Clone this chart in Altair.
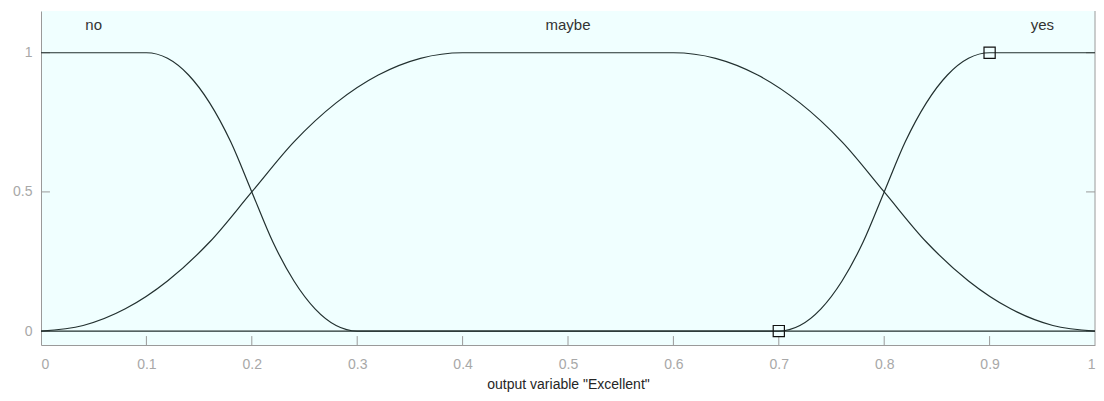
import altair as alt
import pandas as pd

# membership function curves
no_x = [0.0, 0.1, 0.12, 0.14, 0.16, 0.18, 0.2, 0.22, 0.24, 0.26, 0.28, 0.3, 1.0]
no_y = [1.0, 1.0, 0.98, 0.92, 0.82, 0.68, 0.5, 0.32, 0.18, 0.08, 0.02, 0.0, 0.0]

maybe_x = [0.0, 0.04, 0.08, 0.12, 0.16, 0.2, 0.24, 0.28, 0.32, 0.36, 0.4,
           0.6, 0.64, 0.68, 0.72, 0.76, 0.8, 0.84, 0.88, 0.92, 0.96, 1.0]
maybe_y = [0.0, 0.02, 0.08, 0.18, 0.32, 0.5, 0.68, 0.82, 0.92, 0.98, 1.0,
           1.0, 0.98, 0.92, 0.82, 0.68, 0.5, 0.32, 0.18, 0.08, 0.02, 0.0]

yes_x = [0.0, 0.7, 0.72, 0.74, 0.76, 0.78, 0.8, 0.82, 0.84, 0.86, 0.88, 0.9, 1.0]
yes_y = [0.0, 0.0, 0.02, 0.08, 0.18, 0.32, 0.5, 0.68, 0.82, 0.92, 0.98, 1.0, 1.0]

mf_names = ["no", "maybe", "yes"]
mf_label_x = [0.05, 0.5, 0.95]
mf_label_y = [1.1, 1.1, 1.1]

marker_x = [0.7, 0.9]
marker_y = [0.0, 1.0]

x_ticks = [0, 0.1, 0.2, 0.3, 0.4, 0.5, 0.6, 0.7, 0.8, 0.9, 1]
y_ticks = [0, 0.5, 1]

XD = [0, 1]
YD = [-0.05, 1.15]
AXC = "#9a9a9a"
FONT = "Liberation Sans"

rows = []
for name, xs_, ys_ in [("no", no_x, no_y), ("maybe", maybe_x, maybe_y), ("yes", yes_x, yes_y)]:
    for i, (a, b) in enumerate(zip(xs_, ys_)):
        rows.append({"mf": name, "x": a, "y": b, "o": i})
curves = pd.DataFrame(rows)

xs = alt.Scale(domain=XD, nice=False, zero=False)
ys = alt.Scale(domain=YD, nice=False, zero=False)

xaxis = alt.Axis(values=x_ticks, format="~g", tickSize=0, labelPadding=12,
                 domainColor=AXC, labelColor="#a8a8a8", labelFontSize=14,
                 labelFont=FONT, grid=False,
                 title='output variable "Excellent"', titleFont=FONT,
                 titleFontSize=14, titleFontWeight="normal", titleColor="#262626",
                 titlePadding=6)
yaxis = alt.Axis(values=y_ticks, format="~g", tickSize=0, labelPadding=9,
                 domainColor=AXC, labelColor="#a8a8a8", labelFontSize=14,
                 labelFont=FONT, grid=False, title=None)

lines = alt.Chart(curves).mark_line(interpolate="monotone", color="#22302f",
                                    strokeWidth=1.2, clip=True).encode(
    x=alt.X("x:Q", scale=xs, axis=xaxis),
    y=alt.Y("y:Q", scale=ys, axis=yaxis),
    detail="mf:N",
    order="o:Q",
)

# inner tick marks
bt = pd.DataFrame({"x": x_ticks[1:-1]})
bottom_ticks = alt.Chart(bt).mark_rule(color=AXC, strokeWidth=1).encode(
    x="x:Q", y=alt.datum(-0.05), y2=alt.datum(-0.018))
lt = pd.DataFrame({"y": y_ticks})
left_ticks = alt.Chart(lt).mark_rule(color=AXC, strokeWidth=1).encode(
    y="y:Q", x=alt.datum(0), x2=alt.datum(0.0085))
right_ticks = alt.Chart(lt).mark_rule(color=AXC, strokeWidth=1).encode(
    y="y:Q", x=alt.datum(1), x2=alt.datum(1 - 0.0085))
right_border = alt.Chart(pd.DataFrame({"x": [1]})).mark_rule(color=AXC, strokeWidth=1).encode(
    x="x:Q", y=alt.datum(YD[0]), y2=alt.datum(YD[1]))

labels = alt.Chart(pd.DataFrame({"t": mf_names, "x": mf_label_x, "y": mf_label_y})).mark_text(
    font=FONT, fontSize=15, color="#333333", baseline="middle").encode(
    x="x:Q", y="y:Q", text="t:N")

markers = alt.Chart(pd.DataFrame({"x": marker_x, "y": marker_y})).mark_point(
    shape="square", size=125, filled=False, color="#111111", strokeWidth=1.2, opacity=1).encode(
    x="x:Q", y="y:Q")

chart = alt.layer(bottom_ticks, left_ticks, right_ticks, right_border, lines, labels, markers).properties(
    width=1054, height=334,
    autosize=alt.AutoSizeParams(type="none"),
    padding={"left": 33, "top": 3, "right": 1, "bottom": 47},
    background="white",
).configure_view(fill="#f0ffff", stroke=None)

chart.save("out.html", embed_options={"renderer": "svg", "actions": False})
